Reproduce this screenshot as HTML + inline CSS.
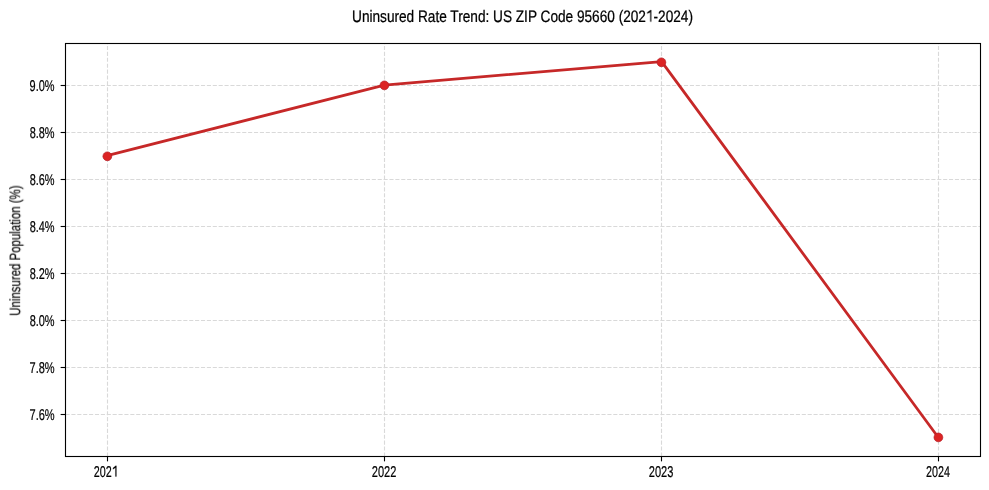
<!DOCTYPE html>
<html><head><meta charset="utf-8"><style>
html,body{margin:0;padding:0;background:#fff;}
svg{display:block;}
text{will-change:transform;text-rendering:geometricPrecision;}
text{font-family:"Liberation Sans", sans-serif;fill:#000;stroke:#000;stroke-width:1.5px;}
.g{stroke:#d9d9d9;stroke-width:1.11;stroke-dasharray:4.11 1.78;}
.t{stroke:#000;stroke-width:1.11;}
.hid{fill-opacity:0;stroke-opacity:0;}
.one{fill:#000;stroke:#000;stroke-width:30;}
</style></head><body>
<svg width="989" height="490" viewBox="0 0 989 490">
<line x1="107.5" y1="456.5" x2="107.5" y2="43.5" class="g"/>
<line x1="384.5" y1="456.5" x2="384.5" y2="43.5" class="g"/>
<line x1="661.5" y1="456.5" x2="661.5" y2="43.5" class="g"/>
<line x1="938.5" y1="456.5" x2="938.5" y2="43.5" class="g"/>
<line x1="65.5" y1="414.5" x2="980.5" y2="414.5" class="g"/>
<line x1="65.5" y1="367.5" x2="980.5" y2="367.5" class="g"/>
<line x1="65.5" y1="320.5" x2="980.5" y2="320.5" class="g"/>
<line x1="65.5" y1="273.5" x2="980.5" y2="273.5" class="g"/>
<line x1="65.5" y1="226.5" x2="980.5" y2="226.5" class="g"/>
<line x1="65.5" y1="179.5" x2="980.5" y2="179.5" class="g"/>
<line x1="65.5" y1="132.5" x2="980.5" y2="132.5" class="g"/>
<line x1="65.5" y1="85.5" x2="980.5" y2="85.5" class="g"/>
<polyline points="107.09,155.64 384.36,85.04 661.64,61.57 938.91,438.23" fill="none" stroke="#c62828" stroke-width="2.78" stroke-linejoin="round" stroke-linecap="round"/>
<circle cx="107.35" cy="156.3" r="4.4" fill="#dc2424" stroke="#b41e26" stroke-width="0.7"/>
<circle cx="384.4" cy="85.35" r="4.4" fill="#dc2424" stroke="#b41e26" stroke-width="0.7"/>
<circle cx="661.4" cy="62.3" r="4.4" fill="#dc2424" stroke="#b41e26" stroke-width="0.7"/>
<circle cx="938.4" cy="437.4" r="4.4" fill="#dc2424" stroke="#b41e26" stroke-width="0.7"/>
<rect x="65.5" y="43.5" width="915.0" height="413.0" fill="none" stroke="#000" stroke-width="1.11"/>
<line x1="107.5" y1="456.5" x2="107.5" y2="461.36" class="t"/>
<g transform="translate(93.76,476.60) scale(0.10776,0.15600)"><text style="font-size:100px" >202<tspan class="hid">1</tspan></text><path transform="translate(166.84375,0) scale(0.048828,-0.048828)" d="M700 0V1150L230 950V1120L740 1409H890V0Z" class="one"/></g>
<line x1="384.5" y1="456.5" x2="384.5" y2="461.36" class="t"/>
<text transform="translate(371.75,476.60) scale(0.11064,0.15600)" style="font-size:100px" >2022</text>
<line x1="661.5" y1="456.5" x2="661.5" y2="461.36" class="t"/>
<text transform="translate(648.75,476.60) scale(0.11033,0.15600)" style="font-size:100px" >2023</text>
<line x1="938.5" y1="456.5" x2="938.5" y2="461.36" class="t"/>
<text transform="translate(925.96,476.60) scale(0.10769,0.15600)" style="font-size:100px" >2024</text>
<line x1="65.5" y1="414.5" x2="60.64" y2="414.5" class="t"/>
<text transform="translate(29.54,419.56) scale(0.10990,0.15600)" style="font-size:100px" >7.6%</text>
<line x1="65.5" y1="367.5" x2="60.64" y2="367.5" class="t"/>
<text transform="translate(29.54,372.63) scale(0.10990,0.15600)" style="font-size:100px" >7.8%</text>
<line x1="65.5" y1="320.5" x2="60.64" y2="320.5" class="t"/>
<text transform="translate(29.63,325.70) scale(0.10950,0.15600)" style="font-size:100px" >8.0%</text>
<line x1="65.5" y1="273.5" x2="60.64" y2="273.5" class="t"/>
<text transform="translate(29.63,278.77) scale(0.10950,0.15600)" style="font-size:100px" >8.2%</text>
<line x1="65.5" y1="226.5" x2="60.64" y2="226.5" class="t"/>
<text transform="translate(29.63,231.83) scale(0.10950,0.15600)" style="font-size:100px" >8.4%</text>
<line x1="65.5" y1="179.5" x2="60.64" y2="179.5" class="t"/>
<text transform="translate(29.63,184.90) scale(0.10950,0.15600)" style="font-size:100px" >8.6%</text>
<line x1="65.5" y1="132.5" x2="60.64" y2="132.5" class="t"/>
<text transform="translate(29.63,137.97) scale(0.10950,0.15600)" style="font-size:100px" >8.8%</text>
<line x1="65.5" y1="85.5" x2="60.64" y2="85.5" class="t"/>
<text transform="translate(29.58,91.04) scale(0.10970,0.15600)" style="font-size:100px" >9.0%</text>
<g transform="translate(352.05,21.60) scale(0.13637,0.16600)"><text style="font-size:100px" >Uninsured Rate Trend: US ZIP Code 95660 (202<tspan class="hid">1</tspan>-2024)</text><path transform="translate(2154.96875,0) scale(0.048828,-0.048828)" d="M650 0V1150L200 980V1150L690 1409H800V0Z" class="one"/></g>
<text transform="translate(19.8,315.58) rotate(-90) scale(0.11425,0.15000)" style="font-size:100px;stroke-width:1px">Uninsured Population (%)</text>
</svg></body></html>
